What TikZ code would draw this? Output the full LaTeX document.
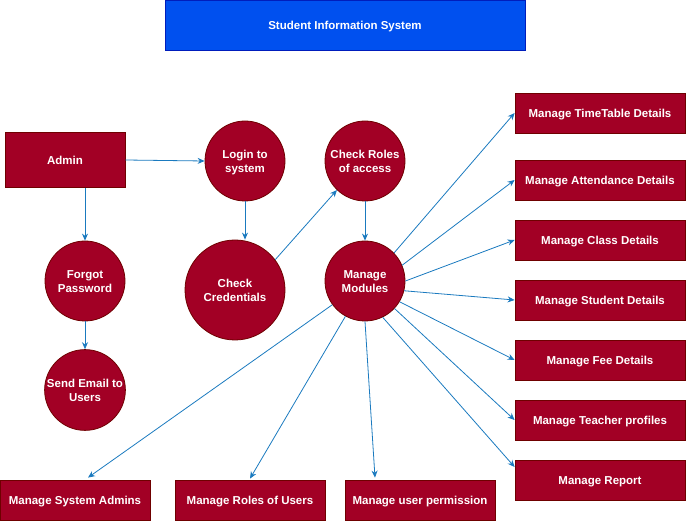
\documentclass[tikz,border=0pt]{standalone}
\usepackage{fontspec}
\setmainfont{Liberation Sans}
\usetikzlibrary{arrows.meta}
\definecolor{crim}{HTML}{A20025}
\definecolor{crimline}{HTML}{6F0000}
\definecolor{titlefill}{HTML}{0050EF}
\definecolor{titleline}{HTML}{001DBC}
\definecolor{arr}{HTML}{1A7ABF}
\newcommand\nt[1]{\raisebox{-1.3pt}[\height][\depth]{\begin{tabular}{@{}c@{}}#1\end{tabular}}}
\begin{document}
\begin{tikzpicture}[x=1pt,y=-1pt,
 every node/.style={font=\fontsize{11.5}{14}\selectfont\bfseries, text=white, inner sep=0pt},
 box/.style={rectangle, draw=crimline, fill=crim, minimum width=170pt, minimum height=40pt, line width=0.8pt},
 circ/.style={circle, draw=crimline, fill=crim, minimum size=80pt, line width=0.8pt},
 conn/.style={draw=arr, line width=0.8pt, -{Stealth[length=7pt,width=6pt]}}]
\useasboundingbox (0,0) rectangle (686,521);
\node[rectangle, draw=titleline, fill=titlefill, minimum width=360pt, minimum height=50pt, line width=0.8pt] (title) at (345,25) {\nt{Student Information System}};
\node[box, minimum width=120pt, minimum height=55pt] (admin) at (65,160) {\nt{Admin}};
\node[circ] (li) at (245,161) {\nt{Login to\\system}};
\node[circ, minimum size=100pt] (cc) at (235,290) {\nt{Check\\Credentials}};
\node[circ] (cr) at (365,161) {\nt{Check Roles\\of access}};
\node[circ] (mm) at (365,281) {\nt{Manage\\Modules}};
\node[circ] (fp) at (85,281) {\nt{Forgot\\Password}};
\node[circ] (se) at (85,390) {\nt{Send Email to\\Users}};
\node[box] (tt) at (600,113) {\nt{Manage TimeTable Details}};
\node[box] (at) at (600,180) {\nt{Manage Attendance Details}};
\node[box] (cl) at (600,240) {\nt{Manage Class Details}};
\node[box] (st) at (600,300) {\nt{Manage Student Details}};
\node[box] (fe) at (600,360) {\nt{Manage Fee Details}};
\node[box] (te) at (600,420) {\nt{Manage Teacher profiles}};
\node[box] (rep) at (600,480) {\nt{Manage Report}};
\node[box, minimum width=150pt] (sa) at (75,500) {\nt{Manage System Admins}};
\node[box, minimum width=150pt] (ro) at (250,500) {\nt{Manage Roles of Users}};
\node[box, minimum width=150pt] (up) at (420,500) {\nt{Manage user permission}};
\draw[conn] (admin.east) -- (li.west);
\draw[conn] (admin.south -| fp.north) -- (fp.north);
\draw[conn] (fp.south) -- (se.north);
\draw[conn] (li.south) -- (li.south |- cc.north);
\draw[conn] (cc.37) -- (cr.226);
\draw[conn] (cr.south) -- (mm.north);
\draw[conn] (mm.44) -- (tt.west);
\draw[conn] (mm.23) -- (at.west);
\draw[conn] (mm.0) -- (cl.west);
\draw[conn] (mm.-14) -- (st.west);
\draw[conn] (mm.-31) -- (fe.west);
\draw[conn] (mm.-43) -- (te.west);
\draw[conn] (mm.-64) -- ([yshift=13pt]rep.west);
\draw[conn] (mm.-90) -- ([xshift=-45pt,yshift=2pt]up.north);
\draw[conn] (mm.-119) -- ([yshift=1pt]ro.north);
\draw[conn] (mm.-144) -- ([xshift=13pt,yshift=2pt]sa.north);
\end{tikzpicture}
\end{document}
